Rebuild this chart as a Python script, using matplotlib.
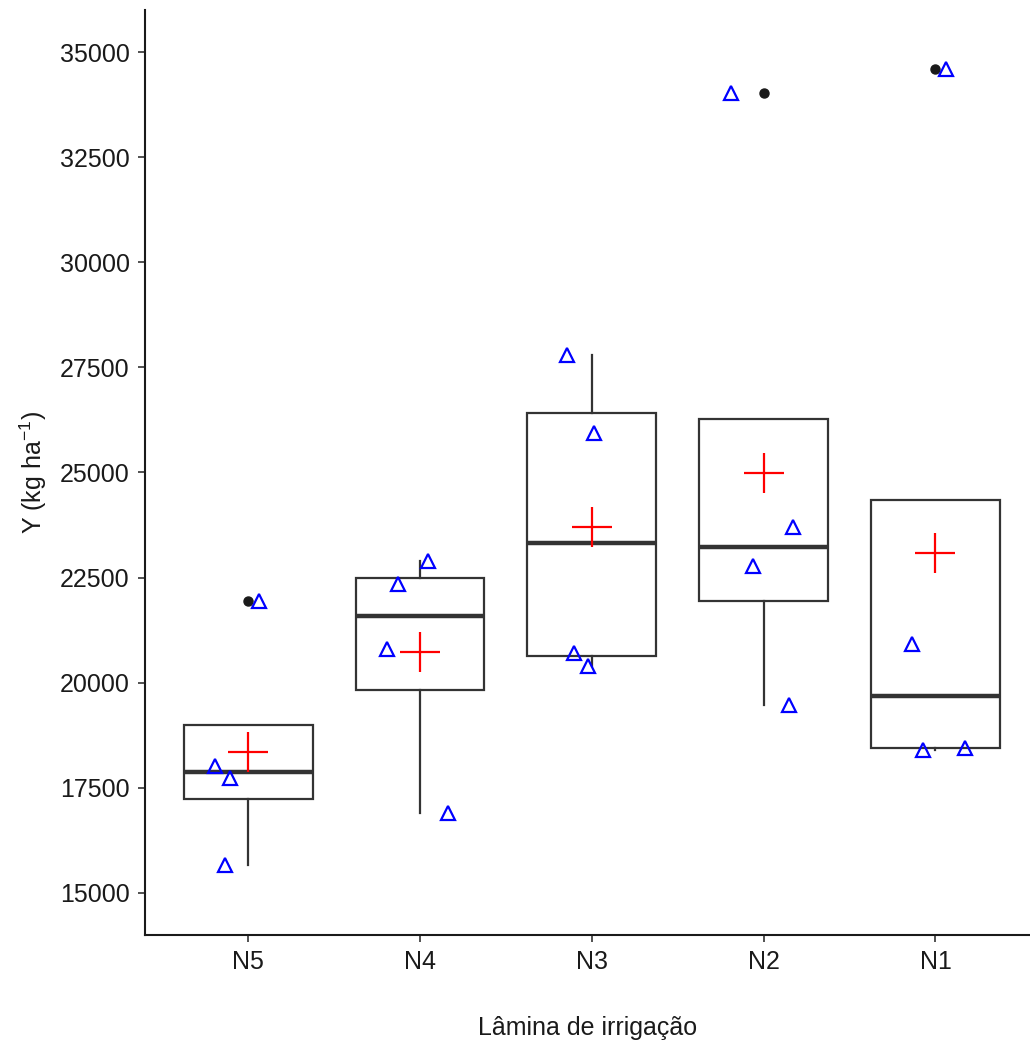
#!/usr/bin/env python3
"""
Boxplot of yield (Y) by irrigation depth, with raw points and group means.
"""

import numpy as np
import matplotlib.pyplot as plt

plt.rcParams['font.family'] = ['Liberation Sans', 'DejaVu Sans']
plt.rcParams['mathtext.fontset'] = 'custom'
plt.rcParams['mathtext.rm'] = 'Liberation Sans'
plt.rcParams['mathtext.it'] = 'Liberation Sans:italic'

# treatments, in plotting order
groups = ['N5', 'N4', 'N3', 'N2', 'N1']

# yield per plot (kg/ha)
y_n5 = [15670, 17740, 18020, 21940]
y_n4 = [16895, 20806, 22347, 22895]
y_n3 = [20400, 20710, 25950, 27790]
y_n2 = [19470, 22775, 23700, 34020]
y_n1 = [18400, 18450, 20930, 34600]

# horizontal jitter of each plotted point (same order as the values)
jit_n5 = [-0.134, -0.105, -0.190, 0.064]
jit_n4 = [0.163, -0.192, -0.128, 0.047]
jit_n3 = [-0.023, -0.105, 0.012, -0.145]
jit_n2 = [0.145, -0.064, 0.169, -0.192]
jit_n1 = [-0.070, 0.174, -0.134, 0.064]

yields = [y_n5, y_n4, y_n3, y_n2, y_n1]
jitter = [jit_n5, jit_n4, jit_n3, jit_n2, jit_n1]

box_col = '#333333'

fig = plt.figure(figsize=(10.30, 10.43), dpi=100)
ax = fig.add_axes([0.1408, 0.1036, 0.8592, 0.8868])

pos = np.arange(1, len(groups) + 1)
ax.boxplot(yields, positions=pos, widths=0.75, showcaps=False,
           patch_artist=True, whis=1.5,
           boxprops=dict(facecolor='white', edgecolor=box_col, linewidth=1.6),
           medianprops=dict(color=box_col, linewidth=3.2),
           whiskerprops=dict(color=box_col, linewidth=1.6),
           flierprops=dict(marker='o', markerfacecolor='#1a1a1a',
                           markeredgecolor='#1a1a1a', markersize=6.5))

for p, vals, jit in zip(pos, yields, jitter):
    xs = p + np.array(jit)
    ax.plot(xs, vals, linestyle='none', marker='^', markersize=10,
            markerfacecolor='none', markeredgecolor='blue', markeredgewidth=1.6,
            zorder=4)
    ax.plot(p, np.mean(vals), linestyle='none', marker='+', markersize=29,
            markeredgecolor='red', markeredgewidth=1.6, zorder=5)

ax.set_xlim(0.4, 5.55)
ax.set_ylim(14000, 36000)
ax.set_xticks(pos)
ax.set_xticklabels(groups)
ax.set_yticks(np.arange(15000, 35001, 2500))

for side in ['top', 'right']:
    ax.spines[side].set_visible(False)
for side in ['left', 'bottom']:
    ax.spines[side].set_linewidth(1.5)
    ax.spines[side].set_color('#1a1a1a')

ax.tick_params(axis='both', length=5, width=1.2, color='#333333',
               labelsize=18, labelcolor='#1a1a1a', pad=6)

ax.set_xlabel('Lâmina de irrigação', fontsize=18, color='#1a1a1a', labelpad=30)
ax.set_ylabel('Y (kg ha$^{-1}$)', fontsize=18, color='#1a1a1a', labelpad=8)

fig.savefig('out.png', dpi=100)
